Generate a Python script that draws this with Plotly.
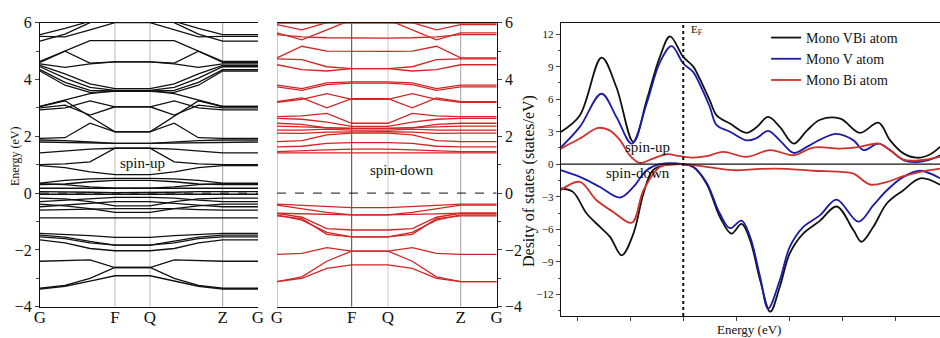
import plotly.graph_objects as go

# ---------------- data ----------------
K_LABELS = ["G", "F", "Q", "Z", "G"]
K_UP = [0.0, 1.0, 1.467, 2.436, 2.907]
K_DN = [0.0, 1.0, 1.486, 2.459, 2.941]
E_TICKS = [-4, -2, 0, 2, 4, 6]

# band energies at [G, 1/3 GF, 2/3 GF, F] (path mirrored Q->Z, flat F->Q and Z->G)
BANDS_UP = [
    [5.58, 5.80, 6.05, 6.30], [5.52, 5.50, 5.75, 6.00], [5.35, 5.60, 6.00, 6.40],
    [4.64, 5.00, 5.37, 5.37], [4.60, 5.00, 4.58, 4.62], [4.55, 4.43, 4.55, 4.62],
    [4.50, 4.20, 3.85, 3.68], [4.45, 4.05, 3.72, 3.62], [4.35, 3.90, 3.62, 3.60],
    [4.30, 3.80, 3.55, 3.58], [3.05, 3.27, 3.50, 3.60], [3.05, 3.25, 2.70, 2.16],
    [2.93, 3.00, 3.25, 3.04], [3.00, 3.10, 2.75, 3.04], [1.93, 1.95, 2.46, 2.16],
    [1.87, 1.85, 1.80, 1.75], [1.80, 1.78, 1.76, 1.75], [1.42, 1.48, 1.55, 1.58],
    [1.00, 1.03, 1.10, 1.58], [0.97, 0.90, 0.75, 0.65], [0.35, 0.45, 0.50, 0.52],
    [0.30, 0.32, 0.40, 0.45], [0.33, 0.30, 0.22, 0.17], [0.17, 0.17, 0.17, 0.17],
    [0.05, 0.05, 0.03, 0.02], [-0.04, -0.04, -0.05, -0.05], [-0.18, -0.20, -0.30, -0.45],
    [-0.30, -0.25, -0.18, -0.15], [-0.39, -0.45, -0.55, -0.68], [-0.48, -0.42, -0.35, -0.30],
    [-0.60, -0.58, -0.55, -0.55], [-0.87, -0.87, -0.87, -0.87], [-1.42, -1.45, -1.50, -1.56],
    [-1.48, -1.55, -1.70, -1.83], [-1.54, -1.60, -1.75, -1.83], [-1.65, -1.75, -1.95, -2.03],
    [-2.40, -2.38, -2.35, -2.62], [-3.35, -3.25, -3.00, -2.62], [-3.38, -3.28, -3.10, -2.91],
]
BANDS_DN = [
    [5.99, 5.99, 6.00, 6.00], [5.93, 5.75, 6.00, 6.20], [5.64, 5.40, 5.75, 6.10],
    [5.58, 5.50, 5.47, 5.46], [4.76, 5.17, 5.00, 4.99], [4.73, 4.70, 4.45, 4.38],
    [4.52, 4.35, 4.30, 4.38], [3.80, 3.68, 3.88, 3.92], [3.74, 3.62, 3.82, 3.87],
    [3.22, 3.35, 3.00, 3.33], [3.20, 3.30, 3.50, 3.30], [2.69, 2.72, 2.81, 2.46],
    [2.63, 2.60, 2.50, 2.35], [2.46, 2.42, 2.30, 2.28], [2.36, 2.34, 2.30, 2.28],
    [2.22, 2.22, 2.25, 2.22], [2.11, 2.10, 2.15, 2.16], [1.81, 1.85, 2.05, 2.11],
    [1.63, 1.65, 1.75, 1.78], [1.46, 1.48, 1.52, 1.55], [1.42, 1.42, 1.43, 1.44],
    [-0.39, -0.43, -0.48, -0.51], [-0.42, -0.55, -0.68, -0.77], [-0.71, -0.73, -0.76, -0.77],
    [-0.71, -0.85, -1.25, -1.30], [-0.77, -0.95, -1.38, -1.54], [-0.80, -0.90, -1.45, -1.54],
    [-2.16, -2.12, -1.92, -2.04], [-3.12, -2.95, -2.40, -2.04], [-3.12, -3.00, -2.65, -2.53],
]

# DOS (energy in eV relative to E_F)
VBI_UP_E = [-2.31, -1.95, -1.54, -1.26, -0.94, -0.69, -0.44, -0.25, 0.0, 0.19, 0.31, 0.5, 0.63,
            0.88, 1.19, 1.38, 1.60, 1.82, 2.08, 2.33, 2.58, 2.96, 3.33, 3.68, 3.90, 4.15, 4.40, 4.65, 4.84]
VBI_UP = [2.98, 4.5, 9.83, 7.1, 2.06, 5.9, 9.9, 11.8, 9.9, 9.0, 7.9, 5.9, 4.5,
          3.75, 2.9, 3.4, 4.36, 3.44, 1.9, 3.1, 4.1, 4.2, 2.9, 3.84, 2.2, 1.0, 0.6, 0.9, 1.6]
V_UP_E = [-2.31, -1.95, -1.54, -1.26, -0.97, -0.69, -0.44, -0.22, 0.0, 0.19, 0.31, 0.5, 0.63, 0.88,
          1.19, 1.38, 1.60, 1.82, 2.08, 2.33, 2.58, 2.89, 3.21, 3.40, 3.68, 3.90, 4.15, 4.40, 4.65, 4.84]
V_UP = [1.54, 3.44, 6.5, 4.36, 1.9, 5.6, 9.4, 10.9, 9.3, 8.5, 7.4, 5.3, 3.6, 3.0,
        2.2, 2.4, 3.07, 2.2, 1.04, 1.6, 2.27, 2.8, 2.2, 1.3, 1.9, 1.3, 0.37, 0.2, 0.43, 0.83]
BI_UP_E = [-2.31, -1.95, -1.60, -1.38, -1.19, -1.01, -0.82, -0.57, -0.31, -0.06, 0.19, 0.44,
           0.75, 1.19, 1.64, 2.08, 2.45, 2.96, 3.33, 3.68, 3.90, 4.15, 4.47, 4.84]
BI_UP = [1.44, 2.37, 3.35, 3.1, 2.2, 0.83, 0.12, 0.52, 0.92, 0.74, 0.61, 0.74,
         1.14, 0.68, 1.3, 0.83, 1.54, 1.44, 1.6, 1.9, 1.3, 0.43, 0.37, 0.68]

VBI_DN_E = [-2.31, -2.08, -1.82, -1.57, -1.38, -1.16, -0.94, -0.75, -0.57, -0.31, 0.0, 0.19, 0.44,
            0.69, 0.91, 1.10, 1.26, 1.45, 1.64, 1.82, 2.01, 2.26, 2.58, 2.89, 3.21, 3.36, 3.58,
            3.84, 4.15, 4.47, 4.84]
VBI_DN = [-2.24, -2.55, -4.55, -5.78, -6.7, -8.4, -6.4, -2.7, -0.55, -0.03, 0.0, -0.25, -1.8,
          -4.85, -6.4, -5.5, -7.0, -10.7, -13.6, -11.3, -8.2, -6.4, -5.2, -3.9, -6.1, -7.15, -5.8,
          -3.6, -2.4, -1.3, -1.9]
V_DN_E = [-2.31, -1.95, -1.57, -1.19, -0.94, -0.69, -0.44, 0.0, 0.19, 0.44, 0.69, 0.88, 1.10,
          1.26, 1.45, 1.60, 1.82, 2.01, 2.26, 2.58, 2.89, 3.30, 3.58, 3.84, 4.15, 4.47, 4.84]
V_DN = [-0.55, -1.17, -2.1, -3.07, -2.1, -0.55, 0.0, 0.0, -0.25, -1.7, -4.55, -5.9, -5.2,
        -6.7, -10.4, -13.3, -10.7, -7.6, -5.8, -4.7, -3.26, -5.3, -3.8, -2.4, -1.17, -0.6, -1.3]
BI_DN_E = [-2.31, -1.95, -1.64, -1.32, -0.97, -0.75, -0.44, -0.19, 0.0, 0.44, 0.94, 1.45,
           1.95, 2.45, 2.96, 3.21, 3.52, 3.84, 4.15, 4.47, 4.84]
BI_DN = [-2.4, -1.63, -3.3, -4.4, -5.4, -2.4, -0.25, -0.03, 0.0, -0.25, -0.55, -0.43,
         -0.43, -0.6, -0.7, -0.86, -1.87, -1.63, -1.1, -0.7, -0.4]
DOS_TICKS = [-12, -9, -6, -3, 0, 3, 6, 9, 12]

SERIF = "Liberation Serif, Times New Roman, serif"
BLACK = "#111111"
RED_BAND = "#d42424"
C_VBI, C_V, C_BI = "#111111", "#1c1ca8", "#d0312d"


def band_path(kpts, bands):
    g0, f, q, z, g1 = kpts
    ks = [g0, g0 + (f - g0) / 3, g0 + 2 * (f - g0) / 3, f, q,
          q + (z - q) / 3, q + 2 * (z - q) / 3, z, g1]
    xs, ys = [], []
    for eg, e1, e2, ef in bands:
        xs += ks + [None]
        ys += [eg, e1, e2, ef, ef, e2, e1, eg, eg, None]
    return xs, ys


fig = go.Figure()

xu, yu = band_path(K_UP, BANDS_UP)
fig.add_trace(go.Scatter(x=xu, y=yu, mode="lines", line=dict(color=BLACK, width=1.3),
                         xaxis="x", yaxis="y", showlegend=False, hoverinfo="skip"))
xd, yd = band_path(K_DN, BANDS_DN)
fig.add_trace(go.Scatter(x=xd, y=yd, mode="lines", line=dict(color=RED_BAND, width=1.3),
                         xaxis="x2", yaxis="y2", showlegend=False, hoverinfo="skip"))

for e, v, c, name in [(VBI_UP_E, VBI_UP, C_VBI, "Mono VBi atom"),
                      (V_UP_E, V_UP, C_V, "Mono V atom"),
                      (BI_UP_E, BI_UP, C_BI, "Mono Bi atom")]:
    fig.add_trace(go.Scatter(x=e, y=v, mode="lines", name=name,
                             line=dict(color=c, width=1.8, shape="spline", smoothing=1.0),
                             xaxis="x3", yaxis="y3"))
for e, v, c in [(VBI_DN_E, VBI_DN, C_VBI), (V_DN_E, V_DN, C_V), (BI_DN_E, BI_DN, C_BI)]:
    fig.add_trace(go.Scatter(x=e, y=v, mode="lines", showlegend=False,
                             line=dict(color=c, width=1.8, shape="spline", smoothing=1.0),
                             xaxis="x3", yaxis="y3"))

shapes = []
# high-symmetry vertical lines
for k, col in zip(K_UP[1:4], ["#b8b8b8", "#b8b8b8", "#a0a0a0"]):
    shapes.append(dict(type="line", xref="x", yref="y", x0=k, x1=k, y0=-4, y1=6,
                       line=dict(color=col, width=1), layer="below"))
for k, col in zip(K_DN[0:4], ["#909090", "#444444", "#c8c8c8", "#a0a0a0"]):
    shapes.append(dict(type="line", xref="x2", yref="y2", x0=k, x1=k, y0=-4, y1=6,
                       line=dict(color=col, width=1), layer="below"))
# Fermi level dashed lines
shapes.append(dict(type="line", xref="x", yref="y", x0=K_UP[0], x1=K_UP[-1], y0=0, y1=0,
                   line=dict(color=BLACK, width=1, dash="dash"), layer="below"))
shapes.append(dict(type="line", xref="x2", yref="y2", x0=K_DN[0], x1=K_DN[-1], y0=0, y1=0,
                   line=dict(color=BLACK, width=1, dash="dash"), layer="below"))
# DOS zero line and E_F dotted line
shapes.append(dict(type="line", xref="x3", yref="y3", x0=-2.31, x1=4.84, y0=0, y1=0,
                   line=dict(color=BLACK, width=1.2)))
shapes.append(dict(type="line", xref="x3", yref="y3", x0=0, x1=0, y0=-14, y1=13,
                   line=dict(color=BLACK, width=2, dash="dot")))

ann = [
    dict(text="spin-up", x=1.373, y=1.06, xref="x", yref="y", showarrow=False,
         font=dict(family=SERIF, size=15, color=BLACK)),
    dict(text="spin-down", x=1.669, y=0.81, xref="x2", yref="y2", showarrow=False,
         font=dict(family=SERIF, size=15, color=BLACK)),
    dict(text="Energy (eV)", x=0.016, y=0.5355, xref="paper", yref="paper", showarrow=False,
         xanchor="center", yanchor="middle",
         textangle=-90, font=dict(family=SERIF, size=12, color=BLACK)),
    dict(text="Desity of states (states/eV)", x=0.5628, y=0.4645, xref="paper", yref="paper",
         xanchor="center", yanchor="middle",
         showarrow=False, textangle=-90, font=dict(family=SERIF, size=16, color=BLACK)),
    dict(text="Energy (eV)", x=0.797, y=0.0237, xref="paper", yref="paper", showarrow=False,
         xanchor="center", yanchor="middle", font=dict(family=SERIF, size=13, color=BLACK)),
    dict(text="spin-up", x=-0.67, y=1.6, xref="x3", yref="y3", showarrow=False,
         font=dict(family=SERIF, size=15, color=BLACK)),
    dict(text="spin-down", x=-0.85, y=-0.83, xref="x3", yref="y3", showarrow=False,
         font=dict(family=SERIF, size=15, color=BLACK)),
    dict(text="E<sub>F</sub>", x=0.1, y=12.4, xref="x3", yref="y3", showarrow=False,
         xanchor="left", font=dict(family=SERIF, size=11, color=BLACK)),
]

axis_common = dict(showgrid=False, zeroline=False, showline=True, linecolor=BLACK, linewidth=1,
                   automargin=False)
tickfont_band = dict(family=SERIF, size=16, color=BLACK)

fig.update_layout(
    width=940, height=338, margin=dict(l=0, r=0, t=0, b=0, autoexpand=False),
    paper_bgcolor="white", plot_bgcolor="white",
    font=dict(family=SERIF, color=BLACK),
    shapes=shapes, annotations=ann,
    xaxis=dict(domain=[0.04255, 0.27447], range=[K_UP[0], K_UP[-1]], tickvals=K_UP,
               ticktext=K_LABELS, ticks="", mirror=True, anchor="y", ticklabelstandoff=-5,
               tickfont=dict(family=SERIF, size=17, color=BLACK), **axis_common),
    yaxis=dict(domain=[0.0926, 0.9328], range=[-4, 6], tickvals=E_TICKS, ticks="outside",
               ticklen=4, anchor="x", tickfont=tickfont_band,
               minor=dict(ticks="outside", ticklen=3, dtick=1, tick0=-4), **axis_common),
    xaxis2=dict(domain=[0.29468, 0.52840], range=[K_DN[0], K_DN[-1]], tickvals=K_DN,
                ticktext=K_LABELS, ticks="", mirror=True, anchor="y2", ticklabelstandoff=-5,
                tickfont=dict(family=SERIF, size=17, color=BLACK), **axis_common),
    yaxis2=dict(domain=[0.0926, 0.9328], range=[-4, 6], tickvals=E_TICKS, ticks="outside",
                ticklen=4, anchor="x2", side="right", tickfont=tickfont_band,
                minor=dict(ticks="outside", ticklen=3, dtick=1, tick0=-4), **axis_common),
    xaxis3=dict(domain=[0.5965, 1.0], range=[-2.31, 4.84], dtick=1, tick0=0, ticks="outside",
                ticklen=4, showticklabels=False, mirror=True, anchor="y3", **axis_common),
    yaxis3=dict(domain=[0.0651, 0.9311], range=[-14, 13], tickvals=DOS_TICKS, ticks="outside",
                ticklen=4, anchor="x3", tickfont=dict(family=SERIF, size=11, color=BLACK),
                minor=dict(ticks="outside", ticklen=2, dtick=1.5, tick0=0), **axis_common),
    legend=dict(x=0.815, y=0.935, xanchor="left", yanchor="top", bgcolor="rgba(0,0,0,0)",
                font=dict(family=SERIF, size=14, color=BLACK), tracegroupgap=0),
)

fig.write_html("out.html", config={"displayModeBar": False},
               post_script="document.body.style.margin='0';")
